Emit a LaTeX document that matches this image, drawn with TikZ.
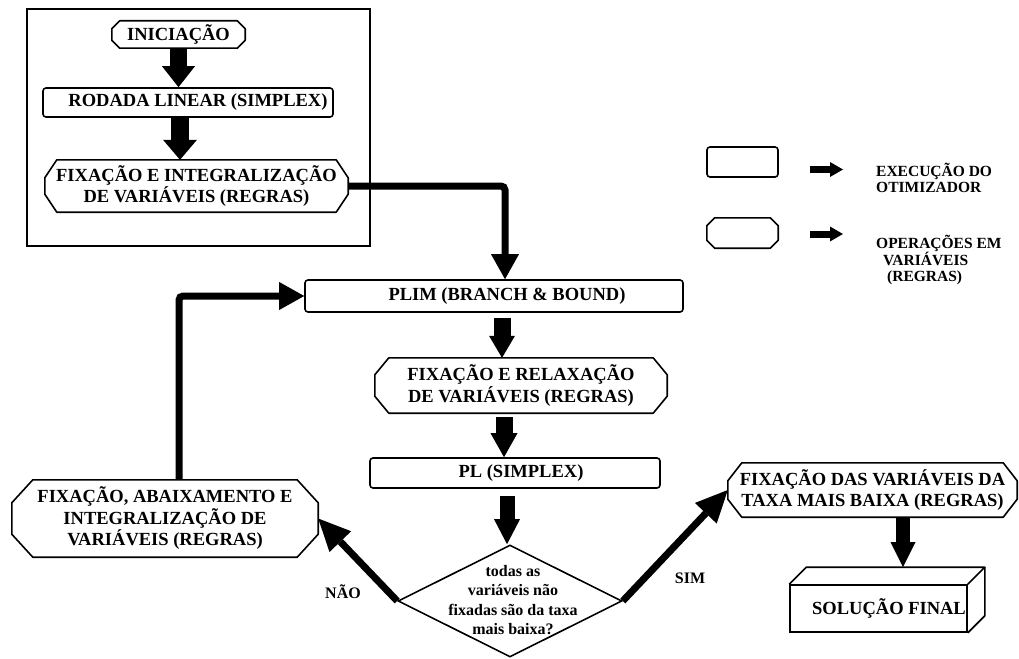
\documentclass[tikz,border=0pt]{standalone}
\usepackage{fontspec}
\setmainfont{Liberation Serif}
\usetikzlibrary{arrows.meta,shapes.geometric,calc}

\newcommand\boxfont{\bfseries\fontsize{18.5}{21.5}\selectfont}
\newcommand\smallbold{\bfseries\fontsize{16}{19.5}\selectfont}
\newcommand\legfont{\bfseries\fontsize{15.5}{16.5}\selectfont}

% outline of a chamfered box around a (borderless) node: node, chamfer dx, chamfer dy
\newcommand\chamfer[3]{%
  \draw[outline] ([xshift=#2]#1.north west) -- ([xshift=-#2]#1.north east)
    -- ([yshift=-#3]#1.north east) -- ([yshift=#3]#1.south east)
    -- ([xshift=-#2]#1.south east) -- ([xshift=#2]#1.south west)
    -- ([yshift=#3]#1.south west) -- ([yshift=-#3]#1.north west) -- cycle;}

\tikzset{
  outline/.style={line width=1.6pt, line join=round},
  runbox/.style={draw, line width=1.6pt, rounded corners=3pt, inner sep=0pt, font=\boxfont},
  rulebox/.style={inner sep=0pt, font=\boxfont, align=center},
  fat/.style n args={3}{line width=#1, -{Triangle[width=#2,length=#3,line width=0pt]}},
  link/.style={line width=7pt, rounded corners=4pt, -{Triangle[width=28pt,length=25pt,line width=0pt]}},
  linkbig/.style={line width=7pt, -{Triangle[width=30pt,length=32pt,line width=0pt]}},
  legarrow/.style={line width=7pt, -{Triangle[width=15pt,length=13pt,line width=0pt]}},
  answer/.style={font=\smallbold, inner sep=0pt},
  legtext/.style={font=\legfont, align=left, inner sep=0pt, anchor=west},
}

\begin{document}
\begin{tikzpicture}[x=1pt,y=-1pt]
\useasboundingbox (0,0) rectangle (1019,658);

% initial phase, framed
\node[draw, line width=1.6pt, minimum width=343pt, minimum height=237pt, inner sep=0pt] (frame) at (198.5,127.5) {};

\node[rulebox, minimum width=133pt, minimum height=27pt] (ini) at (178.5,34.5) {INICIAÇÃO};
\chamfer{ini}{8pt}{8pt}

\node[runbox, minimum width=290pt, minimum height=29pt] (rod) at (188,102.5) {\hspace*{20pt}RODADA LINEAR (SIMPLEX)};

\node[rulebox, minimum width=303pt, minimum height=52pt] (fix1) at (196.5,186) {FIXAÇÃO E INTEGRALIZAÇÃO\\DE VARIÁVEIS (REGRAS)};
\chamfer{fix1}{12pt}{18pt}

% main loop
\node[runbox, minimum width=378pt, minimum height=32pt] (plim) at (494,296) {\hspace*{26pt}PLIM (BRANCH \& BOUND)};

\node[rulebox, minimum width=292pt, minimum height=55pt] (fix2) at (521,385.5) {FIXAÇÃO E RELAXAÇÃO\\DE VARIÁVEIS (REGRAS)};
\chamfer{fix2}{14pt}{17pt}

\node[runbox, minimum width=290pt, minimum height=30pt] (pl) at (515,473) {\hspace*{12pt}PL (SIMPLEX)};

\node[draw, diamond, line width=1.6pt, minimum width=224pt, minimum height=112pt, inner sep=0pt] (dia) at (510,601) {};
\node[font=\smallbold, align=center, inner sep=0pt] (diatxt) at (513,600) {todas as\\variáveis não\\fixadas são da taxa\\mais baixa?};

\node[rulebox, minimum width=306pt, minimum height=77pt] (fix3) at (165,518.5) {FIXAÇÃO, ABAIXAMENTO E\\INTEGRALIZAÇÃO DE\\VARIÁVEIS (REGRAS)};
\chamfer{fix3}{21pt}{23pt}

\node[rulebox, minimum width=289pt, minimum height=54pt] (fixd) at (872.5,490) {FIXAÇÃO DAS VARIÁVEIS DA\\TAXA MAIS BAIXA (REGRAS)};
\chamfer{fixd}{14pt}{18pt}

% final solution block
\node[draw, line width=1.6pt, minimum width=177pt, minimum height=47pt, inner sep=0pt, font=\boxfont] (sol) at (878.5,608.5) {\hspace*{21pt}SOLUÇÃO FINAL};
\draw[outline] (sol.north west) -- ([shift={(17pt,17pt)}]sol.north west)
  -- ([shift={(17pt,17pt)}]sol.north east) -- (sol.north east);
\draw[outline] ([shift={(17pt,17pt)}]sol.north east) -- ([shift={(17pt,17pt)}]sol.south east) -- (sol.south east);

% block arrows
\draw[fat={17pt}{33pt}{21pt}] (ini.south) -- (ini.south |- rod.north);
\draw[fat={18pt}{34pt}{20pt}] ([xshift=-8pt]rod.south) -- ([xshift=-8pt]rod.south |- fix1.north);
\draw[fat={17pt}{26pt}{22pt}, shorten <=5pt] ([xshift=8pt]plim.south) -- ([xshift=8pt]plim.south |- fix2.north);
\draw[fat={17pt}{27pt}{24pt}, shorten <=4pt] ([xshift=-17pt]fix2.south) -- ([xshift=-17pt]fix2.south |- pl.north);
\draw[fat={15pt}{26pt}{25pt}, shorten <=7pt] ([xshift=-8pt]pl.south) -- ([xshift=-8pt]pl.south |- dia.north);
\draw[fat={14pt}{25pt}{25pt}] ([xshift=30.5pt]fixd.south) -- ([shift={(24.5pt,17pt)}]sol.north);

% connectors
\draw[link] (fix1.east) -| ([xshift=11pt]plim.north);
\draw[link] ([xshift=14pt]fix3.north) |- (plim.west);
\draw[linkbig] (dia.west) -- (fix3.east);
\draw[linkbig] (dia.east) -- (fixd.west);
\node[answer] (nao) at (343,592) {NÃO};
\node[answer] (sim) at (690,578) {SIM};

% legend
\node[runbox, minimum width=71pt, minimum height=30pt] (lg1) at (742.5,162) {};
\node[rulebox, minimum width=71pt, minimum height=30pt] (lg2) at (742.5,233) {};
\chamfer{lg2}{8pt}{8pt}
\draw[legarrow] (810,169.5) -- (843,169.5);
\draw[legarrow] (810,234) -- (843,234);
\node[legtext] (lt1) at (876,178) {EXECUÇÃO DO\\OTIMIZADOR};
\node[legtext] (lt2) at (876,260) {OPERAÇÕES EM\\\hspace*{7pt}VARIÁVEIS\\\hspace*{11pt}(REGRAS)};
\end{tikzpicture}
\end{document}
